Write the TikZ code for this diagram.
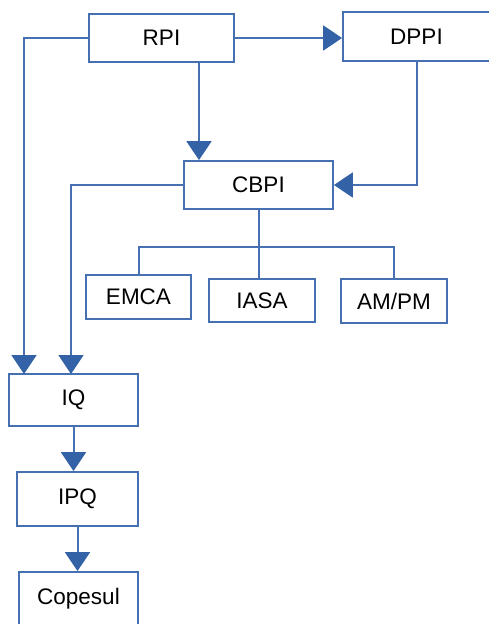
\documentclass[tikz,border=0pt]{standalone}
\usepackage{fontspec}
\setmainfont{Liberation Sans}
\usetikzlibrary{arrows.meta}
\definecolor{boxblue}{RGB}{70,112,178}
\definecolor{headblue}{RGB}{52,98,166}
\begin{document}
\begin{tikzpicture}[x=1pt,y=-1pt,
  box/.style={draw=boxblue,line width=1.8pt,rectangle,inner sep=0pt,
    font=\fontsize{22.5}{26}\selectfont,text=black},
  conn/.style={draw=boxblue,line width=2pt},
  arr/.style={conn,-{Triangle[width=25pt,length=19pt,fill=headblue,color=headblue]}}]
\useasboundingbox (0,0) rectangle (489,624);
\node[box,minimum width=145pt,minimum height=48pt] (RPI) at (161.5,38) {RPI};
\node[box,minimum width=147pt,minimum height=49pt] (DPPI) at (416.5,36.5) {DPPI};
\node[box,minimum width=149pt,minimum height=48pt] (CBPI) at (258.5,185) {CBPI};
\node[box,minimum width=105pt,minimum height=44pt] (EMCA) at (138.5,297) {EMCA};
\node[box,minimum width=106pt,minimum height=43pt] (IASA) at (262,300.5) {IASA};
\node[box,minimum width=106pt,minimum height=44pt] (AMPM) at (394,301) {AM/PM};
\node[box,minimum width=129pt,minimum height=52pt] (IQ) at (73.5,400) {IQ};
\node[box,minimum width=121pt,minimum height=54pt] (IPQ) at (77.5,499) {IPQ};
\node[box,minimum width=119pt,minimum height=53pt] (COP) at (78.5,598.5) {Copesul};
\coordinate (rdown) at (199,62);
\coordinate (iqa) at (24,374);
\coordinate (iqb) at (71,374);
\coordinate (bus) at (258.5,247);
% connectors
\draw[arr] (RPI.east) -- (RPI.east -| DPPI.west);
\draw[arr] (rdown) -- (rdown |- CBPI.north);
\draw[arr] (DPPI.south) |- (CBPI.east);
\draw[arr] (RPI.west) -| (iqa);
\draw[arr] (CBPI.west) -| (iqb);
\draw[conn] (CBPI.south) -- (CBPI.south |- IASA.north);
\draw[conn] (EMCA.north) |- (bus) -| (AMPM.north);
\draw[arr] (IQ.south) -- (IQ.south |- IPQ.north);
\draw[arr] (IPQ.south) -- (IPQ.south |- COP.north);
\end{tikzpicture}
\end{document}
